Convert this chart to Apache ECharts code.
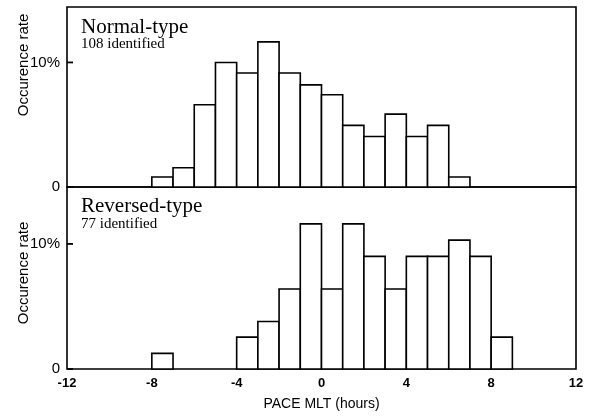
<!DOCTYPE html>
<html>
<head>
<meta charset="utf-8">
<script src="https://cdn.jsdelivr.net/npm/echarts@6/dist/echarts.min.js"></script>
<style>html,body{margin:0;padding:0;background:#fff}#c{width:590px;height:416px}</style>
</head>
<body>
<div id="c"></div>
<script>
// Bin start (PACE MLT hour); each bin is 1 hour wide
var normalBins = [-8, -7, -6, -5, -4, -3, -2, -1, 0, 1, 2, 3, 4, 5, 6];
var normalRate = [0.8, 1.55, 6.6, 10.0, 9.15, 11.65, 9.15, 8.2, 7.4, 4.95, 4.05, 5.85, 4.05, 4.95, 0.8];
var reversedBins = [-8, -4, -3, -2, -1, 0, 1, 2, 3, 4, 5, 6, 7, 8];
var reversedRate = [1.25, 2.55, 3.8, 6.4, 11.6, 6.4, 11.6, 9.0, 6.4, 9.0, 9.0, 10.3, 9.0, 2.55];
var xTicks = [-12, -8, -4, 0, 4, 8, 12];
var yTicks = [0, 10];
var panelTitles = ['Normal-type', 'Reversed-type'];
var panelCounts = ['108 identified', '77 identified'];
var yTitle = 'Occurence rate';
var xTitle = 'PACE MLT (hours)';

function pairs(bins, vals) { return bins.map(function (b, i) { return [b, vals[i]]; }); }
function renderBar(params, api) {
  var x0 = api.value(0), v = api.value(1);
  var p0 = api.coord([x0, v]);
  var p1 = api.coord([x0 + 1, 0]);
  return { type: 'rect', shape: { x: p0[0], y: p0[1], width: p1[0] - p0[0], height: p1[1] - p0[1] },
    style: { fill: '#fff', stroke: '#000', lineWidth: 1.6 } };
}
function renderTick(params, api) {
  var p = api.coord([api.value(0), api.value(1)]);
  return { type: 'line', shape: { x1: p[0], y1: p[1], x2: p[0] + 6, y2: p[1] },
    style: { stroke: '#000', lineWidth: 1.8 } };
}
var tickData = yTicks.map(function (v) { return [xTicks[0], v]; });
var yLab = function (v) { return v === yTicks[1] ? '10%' : (v === yTicks[0] ? '0' : ''); };
function yAxis(idx, max) {
  return { type: 'value', gridIndex: idx, min: 0, max: max, interval: 10, position: 'left',
    axisLine: { show: false, onZero: false }, splitLine: { show: false }, axisTick: { show: false },
    axisLabel: { formatter: yLab, color: '#000', fontFamily: 'Liberation Sans', fontSize: 15, margin: 7, showMaxLabel: false } };
}
var chart = echarts.init(document.getElementById('c'), null, { renderer: 'canvas' });
chart.setOption({
  animation: false,
  backgroundColor: '#fff',
  grid: [
    { left: 67, top: 7, width: 509, height: 180, show: true, borderColor: '#000', borderWidth: 1.6, backgroundColor: 'transparent' },
    { left: 67, top: 187, width: 509, height: 182, show: true, borderColor: '#000', borderWidth: 1.6, backgroundColor: 'transparent' }
  ],
  xAxis: [
    { type: 'value', gridIndex: 0, min: xTicks[0], max: xTicks[xTicks.length - 1], interval: 4,
      axisLine: { show: false, onZero: false }, axisTick: { show: false }, axisLabel: { show: false }, splitLine: { show: false } },
    { type: 'value', gridIndex: 1, min: xTicks[0], max: xTicks[xTicks.length - 1], interval: 4,
      axisLine: { show: false, onZero: false }, axisTick: { show: false }, splitLine: { show: false },
      axisLabel: { color: '#000', fontFamily: 'Liberation Sans', fontWeight: 'bold', fontSize: 13, margin: 8 },
      name: xTitle, nameLocation: 'middle', nameGap: 28,
      nameTextStyle: { color: '#000', fontFamily: 'Liberation Sans', fontSize: 14 } }
  ],
  yAxis: [yAxis(0, 14.45), yAxis(1, 14.55)],
  series: [
    { type: 'custom', xAxisIndex: 0, yAxisIndex: 0, renderItem: renderBar, data: pairs(normalBins, normalRate) },
    { type: 'custom', xAxisIndex: 1, yAxisIndex: 1, renderItem: renderBar, data: pairs(reversedBins, reversedRate) },
    { type: 'custom', xAxisIndex: 0, yAxisIndex: 0, renderItem: renderTick, data: tickData, z: 5 },
    { type: 'custom', xAxisIndex: 1, yAxisIndex: 1, renderItem: renderTick, data: tickData, z: 5 }
  ],
  graphic: [
    { type: 'text', left: 81, top: 17, style: { text: panelTitles[0], font: '21px "Liberation Serif"', fill: '#000' } },
    { type: 'text', left: 81, top: 37, style: { text: panelCounts[0], font: '15px "Liberation Serif"', fill: '#000' } },
    { type: 'text', left: 81, top: 196, style: { text: panelTitles[1], font: '21px "Liberation Serif"', fill: '#000' } },
    { type: 'text', left: 81, top: 217, style: { text: panelCounts[1], font: '15px "Liberation Serif"', fill: '#000' } },
    { type: 'text', x: 24, y: 65, rotation: Math.PI / 2, style: { text: yTitle, font: '15px "Liberation Sans"', fill: '#000', align: 'center', verticalAlign: 'middle' } },
    { type: 'text', x: 24, y: 273, rotation: Math.PI / 2, style: { text: yTitle, font: '15px "Liberation Sans"', fill: '#000', align: 'center', verticalAlign: 'middle' } }
  ]
});
</script>
</body>
</html>
